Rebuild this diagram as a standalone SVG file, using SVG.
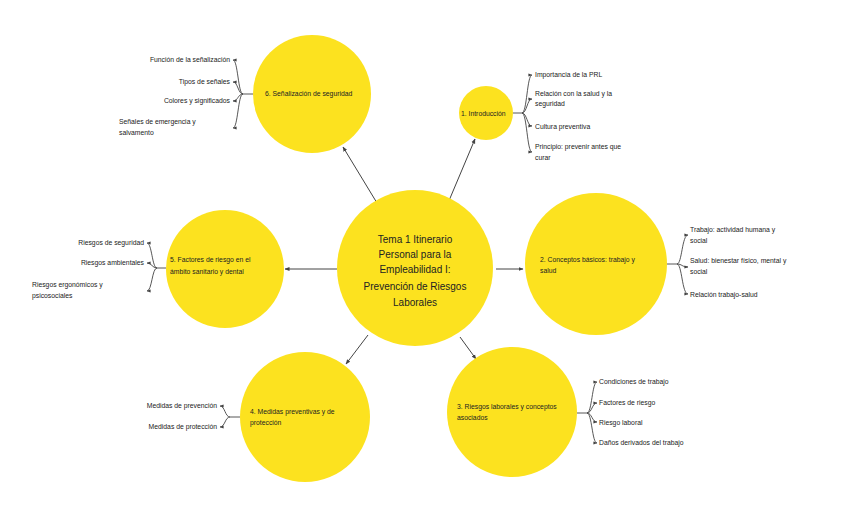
<svg xmlns="http://www.w3.org/2000/svg" width="848" height="517" viewBox="0 0 848 517">
<defs>
<marker id="ah" viewBox="0 0 10 10" refX="9" refY="5" markerWidth="5" markerHeight="5" markerUnits="userSpaceOnUse" orient="auto">
<path d="M0,1 L10,5 L0,9 Z" fill="#444"/>
</marker>
<marker id="sh" viewBox="0 0 10 10" refX="9" refY="5" markerWidth="4" markerHeight="4" markerUnits="userSpaceOnUse" orient="auto">
<path d="M0,1 L10,5 L0,9 Z" fill="#444"/>
</marker>
</defs>
<style>
.c{fill:#FCE21F}
.t{font-family:"Liberation Sans",Arial,sans-serif;font-size:6.8px;fill:#222}
.ct{font-family:"Liberation Sans",Arial,sans-serif;font-size:10px;fill:#222;text-anchor:middle}
.e{text-anchor:end}
.l{fill:none;stroke:#444;stroke-width:1}
.b{fill:none;stroke:#444;stroke-width:0.9}
</style>
<rect width="848" height="517" fill="#fff"/>
<g id="connectors">
<line class="l" x1="377" y1="203" x2="343" y2="147" marker-end="url(#ah)"/>
<line class="l" x1="448" y1="203" x2="475" y2="139" marker-end="url(#ah)"/>
<line class="l" x1="496" y1="269" x2="523" y2="269" marker-end="url(#ah)"/>
<line class="l" x1="337" y1="269" x2="285" y2="269" marker-end="url(#ah)"/>
<line class="l" x1="368" y1="335" x2="346" y2="364" marker-end="url(#ah)"/>
<line class="l" x1="460" y1="337" x2="476" y2="359" marker-end="url(#ah)"/>
<!-- node 6 brace -->
<path class="b" d="M253,94 H243"/>
<path class="b" d="M243,94 C238,94 238,60 233,60" marker-end="url(#sh)"/>
<path class="b" d="M243,94 C238,94 238,82 233,82" marker-end="url(#sh)"/>
<path class="b" d="M243,94 C238,94 238,101 233,101" marker-end="url(#sh)"/>
<path class="b" d="M243,94 C238,94 238,128 233,128" marker-end="url(#sh)"/>
<!-- node 1 brace -->
<path class="b" d="M513,113 H522"/>
<path class="b" d="M522,113 C527,113 527,75 532,75" marker-end="url(#sh)"/>
<path class="b" d="M522,113 C527,113 527,99 532,99" marker-end="url(#sh)"/>
<path class="b" d="M522,113 C527,113 527,126 532,126" marker-end="url(#sh)"/>
<path class="b" d="M522,113 C527,113 527,152 532,152" marker-end="url(#sh)"/>
<!-- node 2 brace -->
<path class="b" d="M667,264 H677"/>
<path class="b" d="M677,264 C682,264 682,235 688,235" marker-end="url(#sh)"/>
<path class="b" d="M677,264 C682,264 682,267 688,267" marker-end="url(#sh)"/>
<path class="b" d="M677,264 C682,264 682,294 688,294" marker-end="url(#sh)"/>
<!-- node 5 brace -->
<path class="b" d="M166,268 H157"/>
<path class="b" d="M157,268 C152,268 152,243 147,243" marker-end="url(#sh)"/>
<path class="b" d="M157,268 C152,268 152,263 147,263" marker-end="url(#sh)"/>
<path class="b" d="M157,268 C152,268 152,291 147,291" marker-end="url(#sh)"/>
<!-- node 4 brace -->
<path class="b" d="M240,417 H230"/>
<path class="b" d="M230,417 C225,417 225,406 220,406" marker-end="url(#sh)"/>
<path class="b" d="M230,417 C225,417 225,427 220,427" marker-end="url(#sh)"/>
<!-- node 3 brace -->
<path class="b" d="M577,413 H587"/>
<path class="b" d="M587,413 C592,413 592,382 597,382" marker-end="url(#sh)"/>
<path class="b" d="M587,413 C592,413 592,403 597,403" marker-end="url(#sh)"/>
<path class="b" d="M587,413 C592,413 592,422 597,422" marker-end="url(#sh)"/>
<path class="b" d="M587,413 C592,413 592,443 597,443" marker-end="url(#sh)"/>
</g>
<g id="center">
<circle class="c" cx="415" cy="268" r="78"/>
<text class="ct" x="415" y="243">Tema 1 Itinerario</text>
<text class="ct" x="415" y="258">Personal para la</text>
<text class="ct" x="415" y="273">Empleabilidad I:</text>
<text class="ct" x="415" y="290">Prevención de Riesgos</text>
<text class="ct" x="415" y="306">Laborales</text>
</g>
<g id="n1">
<circle class="c" cx="486" cy="113" r="27"/>
<text class="t" x="461" y="116">1. Introducción</text>
<text class="t" x="535" y="77">Importancia de la PRL</text>
<text class="t" x="535" y="96">Relación con la salud y la</text>
<text class="t" x="535" y="106">seguridad</text>
<text class="t" x="535" y="129">Cultura preventiva</text>
<text class="t" x="535" y="149">Principio: prevenir antes que</text>
<text class="t" x="535" y="160">curar</text>
</g>
<g id="n2">
<circle class="c" cx="596" cy="264" r="71"/>
<text class="t" x="540" y="262">2. Conceptos básicos: trabajo y</text>
<text class="t" x="540" y="273">salud</text>
<text class="t" x="690" y="232">Trabajo: actividad humana y</text>
<text class="t" x="690" y="243">social</text>
<text class="t" x="690" y="263">Salud: bienestar físico, mental y</text>
<text class="t" x="690" y="274">social</text>
<text class="t" x="690" y="297">Relación trabajo-salud</text>
</g>
<g id="n3">
<circle class="c" cx="512" cy="412" r="65"/>
<text class="t" x="457" y="409">3. Riesgos laborales y conceptos</text>
<text class="t" x="457" y="420">asociados</text>
<text class="t" x="599" y="384">Condiciones de trabajo</text>
<text class="t" x="599" y="405">Factores de riesgo</text>
<text class="t" x="599" y="425">Riesgo laboral</text>
<text class="t" x="599" y="445">Daños derivados del trabajo</text>
</g>
<g id="n4">
<circle class="c" cx="305" cy="417" r="65"/>
<text class="t" x="250" y="414">4. Medidas preventivas y de</text>
<text class="t" x="250" y="425">protección</text>
<text class="t e" x="217" y="408">Medidas de prevención</text>
<text class="t e" x="217" y="429">Medidas de protección</text>
</g>
<g id="n5">
<circle class="c" cx="225" cy="269" r="59"/>
<text class="t" x="170" y="262">5. Factores de riesgo en el</text>
<text class="t" x="170" y="274">ámbito sanitario y dental</text>
<text class="t e" x="144" y="245">Riesgos de seguridad</text>
<text class="t e" x="144" y="265">Riesgos ambientales</text>
<text class="t" x="32" y="287">Riesgos ergonómicos y</text>
<text class="t" x="32" y="298">psicosociales</text>
</g>
<g id="n6">
<circle class="c" cx="312" cy="94" r="59"/>
<text class="t" x="265" y="96">6. Señalización de seguridad</text>
<text class="t e" x="230" y="62">Función de la señalización</text>
<text class="t e" x="230" y="84">Tipos de señales</text>
<text class="t e" x="230" y="103">Colores y significados</text>
<text class="t" x="119" y="124">Señales de emergencia y</text>
<text class="t" x="119" y="135">salvamento</text>
</g>
</svg>
